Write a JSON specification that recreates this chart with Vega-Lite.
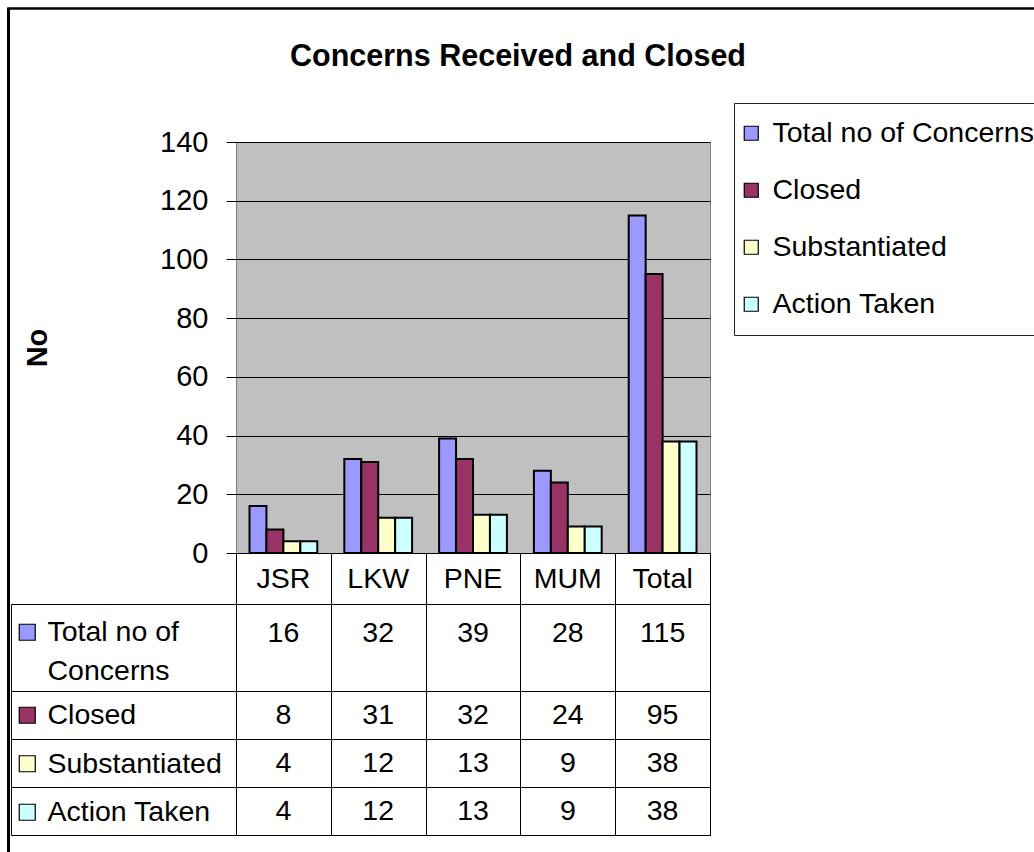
{
  "$schema": "https://vega.github.io/schema/vega-lite/v6.json",
  "padding": {"left": 7, "top": 7, "right": 0, "bottom": 0},
  "background": "white",
  "datasets": {
    "main": [
      {"category": "JSR", "series": "Total no of Concerns", "value": 16},
      {"category": "LKW", "series": "Total no of Concerns", "value": 32},
      {"category": "PNE", "series": "Total no of Concerns", "value": 39},
      {"category": "MUM", "series": "Total no of Concerns", "value": 28},
      {"category": "Total", "series": "Total no of Concerns", "value": 115},
      {"category": "JSR", "series": "Closed", "value": 8},
      {"category": "LKW", "series": "Closed", "value": 31},
      {"category": "PNE", "series": "Closed", "value": 32},
      {"category": "MUM", "series": "Closed", "value": 24},
      {"category": "Total", "series": "Closed", "value": 95},
      {"category": "JSR", "series": "Substantiated", "value": 4},
      {"category": "LKW", "series": "Substantiated", "value": 12},
      {"category": "PNE", "series": "Substantiated", "value": 13},
      {"category": "MUM", "series": "Substantiated", "value": 9},
      {"category": "Total", "series": "Substantiated", "value": 38},
      {"category": "JSR", "series": "Action Taken", "value": 4},
      {"category": "LKW", "series": "Action Taken", "value": 12},
      {"category": "PNE", "series": "Action Taken", "value": 13},
      {"category": "MUM", "series": "Action Taken", "value": 9},
      {"category": "Total", "series": "Action Taken", "value": 38}
    ],
    "titles": [{"title": "Concerns Received and Closed"}],
    "empty": []
  },
  "config": {
    "font": "Liberation Sans",
    "view": {"stroke": null},
    "axis": {"labelFont": "Liberation Sans", "titleFont": "Liberation Sans"},
    "legend": {"labelFont": "Liberation Sans"},
    "style": {"guide-label": {"lineHeight": 39}}
  },
  "spacing": 0,
  "bounds": "flush",
  "vconcat": [
    {"width": 1100, "height": 1, "data": {"name": "empty"}, "mark": "point", "view": {"stroke": "black", "strokeWidth": 1.5, "fill": null}},
    {
      "spacing": 227,
      "bounds": "flush",
      "hconcat": [
        {"width": 1, "height": 844, "data": {"name": "empty"}, "mark": "point", "view": {"stroke": "black", "strokeWidth": 2, "fill": null}},
        {
          "spacing": 0,
          "bounds": "flush",
          "resolve": {
            "scale": {"x": "independent", "y": "independent", "fill": "independent"},
            "legend": {"fill": "independent"},
            "axis": {"x": "independent", "y": "independent"}
          },
          "vconcat": [
            {
              "width": 564, "height": 133,
              "data": {"name": "titles"},
              "mark": {"type": "text", "fontSize": 30.5, "fontWeight": "bold", "font": "Liberation Sans", "color": "black", "dy": -19},
              "encoding": {"text": {"field": "title"}}
            },
            {
              "width": 474, "height": 411,
              "data": {"name": "main"},
              "view": {"fill": "#C0C0C0", "stroke": "#808080", "strokeWidth": 1},
              "mark": {"type": "bar", "stroke": "black", "strokeWidth": 2},
              "encoding": {
                "x": {"field": "category", "type": "nominal", "sort": ["JSR", "LKW", "PNE", "MUM", "Total"], "scale": {"paddingInner": 0.285, "paddingOuter": 0.1425}, "axis": null},
                "xOffset": {"field": "series", "type": "nominal", "sort": ["Total no of Concerns", "Closed", "Substantiated", "Action Taken"], "scale": {"paddingInner": 0, "paddingOuter": 0}},
                "y": {
                  "field": "value", "type": "quantitative",
                  "scale": {"domain": [0, 140], "nice": false},
                  "axis": {
                    "values": [0, 20, 40, 60, 80, 100, 120, 140],
                    "grid": true, "gridColor": "black", "gridOpacity": 1, "gridWidth": 1,
                    "domain": false, "tickColor": "black", "tickSize": 10, "tickWidth": 1,
                    "labelFontSize": 29, "labelColor": "black", "labelPadding": 18,
                    "title": "No", "titleFontSize": 29, "titleFontWeight": "bold", "titleColor": "black", "titlePadding": 107
                  }
                },
                "fill": {
                  "field": "series", "type": "nominal",
                  "scale": {"domain": ["Total no of Concerns", "Closed", "Substantiated", "Action Taken"], "range": ["#9999FF", "#993366", "#FFFFCC", "#CCFFFF"]},
                  "legend": {
                    "orient": "none", "legendX": 498, "legendY": -39,
                    "title": null, "strokeColor": "#202020", "padding": 16,
                    "labelFontSize": 28.5, "labelColor": "black", "labelLimit": 500, "labelOffset": 7,
                    "symbolType": "square", "symbolSize": 196, "symbolStrokeColor": "black", "symbolStrokeWidth": 1.2,
                    "symbolOffset": -13,
                    "rowPadding": 28
                  }
                }
              }
            },
            {
              "width": 474, "height": 51,
              "data": {"name": "main"},
              "transform": [{"filter": "datum.series == 'Total no of Concerns'"}],
              "view": {"stroke": "black", "strokeWidth": 1},
              "mark": {"type": "text", "fontSize": 28.5, "color": "black"},
              "encoding": {
                "x": {"field": "category", "type": "nominal", "sort": ["JSR", "LKW", "PNE", "MUM", "Total"], "scale": {"paddingInner": 0, "paddingOuter": 0},
                      "axis": {"tickBand": "extent", "grid": true, "gridColor": "black", "gridOpacity": 1, "labels": false, "ticks": false, "domain": false, "title": null}},
                "text": {"field": "category"}
              }
            },
            {
              "width": 474, "height": 87,
              "data": {"name": "main"},
              "transform": [{"filter": "datum.series == 'Total no of Concerns'"}],
              "view": {"stroke": "black", "strokeWidth": 1},
              "encoding": {
                "x": {"field": "category", "type": "nominal", "sort": ["JSR", "LKW", "PNE", "MUM", "Total"], "scale": {"paddingInner": 0, "paddingOuter": 0},
                      "axis": {"tickBand": "extent", "grid": true, "gridColor": "black", "gridOpacity": 1, "labels": false, "ticks": false, "domain": false, "title": null}},
                "y": {"field": "series", "type": "nominal", "scale": {"paddingInner": 0, "paddingOuter": 0},
                      "axis": {"orient": "left", "offset": 225, "tickSize": -225, "tickBand": "extent", "labels": false, "domain": true, "domainColor": "black", "tickColor": "black", "grid": false, "title": null}}
              },
              "layer": [
                {"mark": {"type": "text", "fontSize": 28.5, "color": "black", "dy": -15}, "encoding": {"text": {"field": "value", "type": "quantitative"}}},
                {
                  "mark": {"type": "point", "shape": "square", "filled": true, "opacity": 0},
                  "encoding": {
                    "fill": {
                      "field": "series", "type": "nominal",
                      "scale": {"domain": ["Total no of Concerns", "Closed", "Substantiated", "Action Taken"], "range": ["#9999FF", "#993366", "#FFFFCC", "#CCFFFF"]},
                      "legend": {
                        "orient": "none", "legendX": -222, "legendY": 14,
                        "values": ["Total no of Concerns"],
                        "labelExpr": "['Total no of', 'Concerns']",
                        "title": null, "padding": 0,
                        "labelFontSize": 28.5, "labelColor": "black", "labelLimit": 500, "labelOffset": 6,
                        "symbolType": "square", "symbolSize": 256, "symbolStrokeColor": "black", "symbolStrokeWidth": 1.2, "symbolOpacity": 1,
                        "symbolOffset": -1
                      }
                    }
                  }
                }
              ]
            },
            {
              "width": 474, "height": 144,
              "data": {"name": "main"},
              "transform": [{"filter": "datum.series != 'Total no of Concerns'"}],
              "view": {"stroke": "black", "strokeWidth": 1},
              "encoding": {
                "x": {"field": "category", "type": "nominal", "sort": ["JSR", "LKW", "PNE", "MUM", "Total"], "scale": {"paddingInner": 0, "paddingOuter": 0},
                      "axis": {"tickBand": "extent", "grid": true, "gridColor": "black", "gridOpacity": 1, "labels": false, "ticks": false, "domain": false, "title": null}},
                "y": {"field": "series", "type": "nominal", "sort": ["Closed", "Substantiated", "Action Taken"], "scale": {"paddingInner": 0, "paddingOuter": 0},
                      "axis": {"orient": "left", "offset": 225, "tickSize": -225, "tickBand": "extent", "labels": false, "domain": true, "domainColor": "black", "tickColor": "black", "grid": true, "gridColor": "black", "gridOpacity": 1, "title": null}}
              },
              "layer": [
                {"mark": {"type": "text", "fontSize": 28.5, "color": "black"}, "encoding": {"text": {"field": "value", "type": "quantitative"}}},
                {
                  "mark": {"type": "point", "shape": "square", "filled": true, "opacity": 0},
                  "encoding": {
                    "fill": {
                      "field": "series", "type": "nominal",
                      "scale": {"domain": ["Total no of Concerns", "Closed", "Substantiated", "Action Taken"], "range": ["#9999FF", "#993366", "#FFFFCC", "#CCFFFF"]},
                      "legend": {
                        "orient": "none", "legendX": -222, "legendY": 10,
                        "values": ["Closed", "Substantiated", "Action Taken"],
                        "title": null, "padding": 0,
                        "labelFontSize": 28.5, "labelColor": "black", "labelLimit": 500, "labelOffset": 6,
                        "symbolType": "square", "symbolSize": 256, "symbolStrokeColor": "black", "symbolStrokeWidth": 1.2, "symbolOpacity": 1,
                        "symbolOffset": -1,
                        "rowPadding": 19.5
                      }
                    }
                  }
                }
              ]
            }
          ]
        }
      ]
    }
  ]
}
